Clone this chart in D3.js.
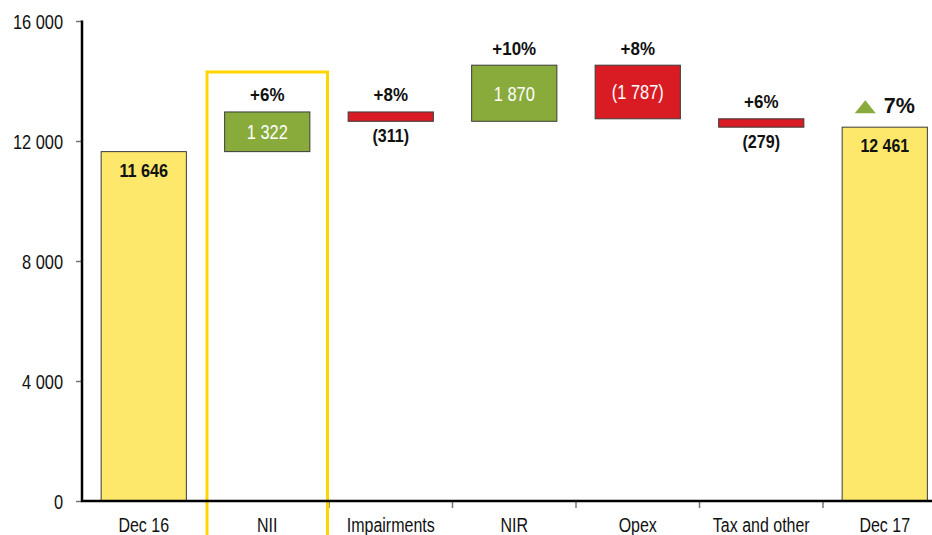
<!DOCTYPE html>
<html><head><meta charset="utf-8">
<script src="https://cdn.jsdelivr.net/npm/d3@7"></script>
<style>
html,body{margin:0;padding:0;background:#fff;}
svg text{font-family:"Liberation Sans",Arial,Helvetica,sans-serif;}
</style></head><body>
<svg id="chart" width="932" height="535"></svg>
<script>
const categories = ["Dec 16","NII","Impairments","NIR","Opex","Tax and other","Dec 17"];
const values = [11646, 1322, -311, 1870, -1787, -279, 12461];
const kinds = ["total","delta","delta","delta","delta","delta","total"];
const valueLabels = ["11 646","1 322","(311)","1 870","(1 787)","(279)","12 461"];
const pctLabels = [null,"+6%","+8%","+10%","+8%","+6%","7%"];
const yTicks = [0,4000,8000,12000,16000];
const highlight = "NII";
const highlightTop = 14300;

const svg = d3.select("#chart");
const y = d3.scaleLinear().domain([0,16000]).range([501,21]);
const x = d3.scaleBand().domain(categories).range([82, 82+7*123.5]).paddingInner(0.31).paddingOuter(0.155);
const step = x.step();

let run = 0;
const data = categories.map((c,i)=>{
  let lo, hi;
  if(kinds[i]==="total"){ lo=0; hi=values[i]; run=values[i]; }
  else { const s=run; run+=values[i]; lo=Math.min(s,run); hi=Math.max(s,run); }
  return {c, v:values[i], kind:kinds[i], lo, hi, label:valueLabels[i], pct:pctLabels[i]};
});

const fmt = d => d3.format(",")(d).replace(/,/g," ");

function addText(g, tx, ty, str, o){
  return g.append("text")
    .attr("transform",`translate(${tx},${ty}) scale(${o.sx||1},1)`)
    .attr("text-anchor",o.anchor||"middle")
    .attr("font-size",o.size).attr("font-weight",o.weight||"normal")
    .attr("fill",o.fill||"#111").text(str);
}

// bars
const color = d => d.kind==="total" ? "#FDE86B" : (d.v>=0 ? "#89AB3C" : "#D91C24");
svg.append("g").selectAll("rect").data(data).join("rect")
  .attr("x",d=>x(d.c)).attr("width",x.bandwidth())
  .attr("y",d=>y(d.hi)).attr("height",d=>y(d.lo)-y(d.hi))
  .attr("fill",color).attr("stroke","#3a3a3a").attr("stroke-width",1);

// y axis
const yAxis = d3.axisLeft(y).tickValues(yTicks).tickSize(6).tickFormat(fmt);
const gy = svg.append("g").attr("transform","translate(82,0)").call(yAxis);
gy.select(".domain").remove();
gy.selectAll(".tick line").attr("stroke","#777").attr("stroke-width",1.5);
gy.selectAll(".tick text").attr("x",null).attr("dy","0.36em")
  .attr("transform","translate(-19,0) scale(0.8,1)")
  .attr("font-size",20.5).attr("fill","#111");

// x axis
const xAxis = d3.axisBottom(x).tickSize(0).tickPadding(17);
const gx = svg.append("g").attr("transform","translate(0,501)").call(xAxis);
gx.select(".domain").remove();
gx.selectAll(".tick text").attr("transform","scale(0.82,1)")
  .attr("font-size",19.5).attr("fill","#111");

// band boundary ticks
const bounds = categories.map(c=>x(c)-step*x.paddingInner()/2);
svg.append("g").selectAll("line").data(bounds.slice(2).concat([bounds[bounds.length-1]+step])).join("line")
  .attr("x1",d=>d).attr("x2",d=>d).attr("y1",501).attr("y2",508).attr("stroke","#777").attr("stroke-width",1.5);

// highlight box
const hx = x(highlight) - step*x.paddingInner()/2;
svg.append("path")
  .attr("d",`M${hx+1.5},540 V${y(highlightTop)} H${hx+step-1.5} V540`)
  .attr("fill","none").attr("stroke","#FFD500").attr("stroke-width",3);

// axis lines
svg.append("line").attr("x1",82).attr("x2",82).attr("y1",20.5).attr("y2",502).attr("stroke","#000").attr("stroke-width",2.5);
svg.append("line").attr("x1",81).attr("x2",932).attr("y1",501).attr("y2",501).attr("stroke","#000").attr("stroke-width",2.5);

// labels
const cx = d => x(d.c)+x.bandwidth()/2;
const lg = svg.append("g");
data.forEach((d,i)=>{
  if(d.kind==="total"){
    if(i===0) addText(lg, cx(d), y(d.hi)+25, d.label, {size:18, weight:"bold", sx:0.9});
    else addText(lg, cx(d), y(d.hi)+25, d.label, {size:18.5, weight:"bold", sx:0.86});
  } else {
    const h = y(d.lo)-y(d.hi);
    const mid = (y(d.lo)+y(d.hi))/2;
    if(h>25){
      addText(lg, cx(d), mid+7.5, d.label, {size:20.5, fill:"#fff", sx:0.8});
    } else {
      addText(lg, cx(d), y(d.lo)+21, d.label, {size:18.5, weight:"bold", sx:0.87});
    }
    addText(lg, cx(d), y(d.hi)-10.5, d.pct, {size:17.5, weight:"bold", sx:0.97});
  }
});
// final change with triangle
const last = data[data.length-1];
const tx = cx(last)-19.5, tb = y(last.hi)-14;
svg.append("path").attr("d",`M${tx-10.5},${tb} L${tx},${tb-13} L${tx+10.5},${tb} Z`).attr("fill","#89AB3C");
addText(svg, cx(last)-1, tb, last.pct, {size:22, weight:"bold", anchor:"start", sx:0.98});
</script></body></html>
